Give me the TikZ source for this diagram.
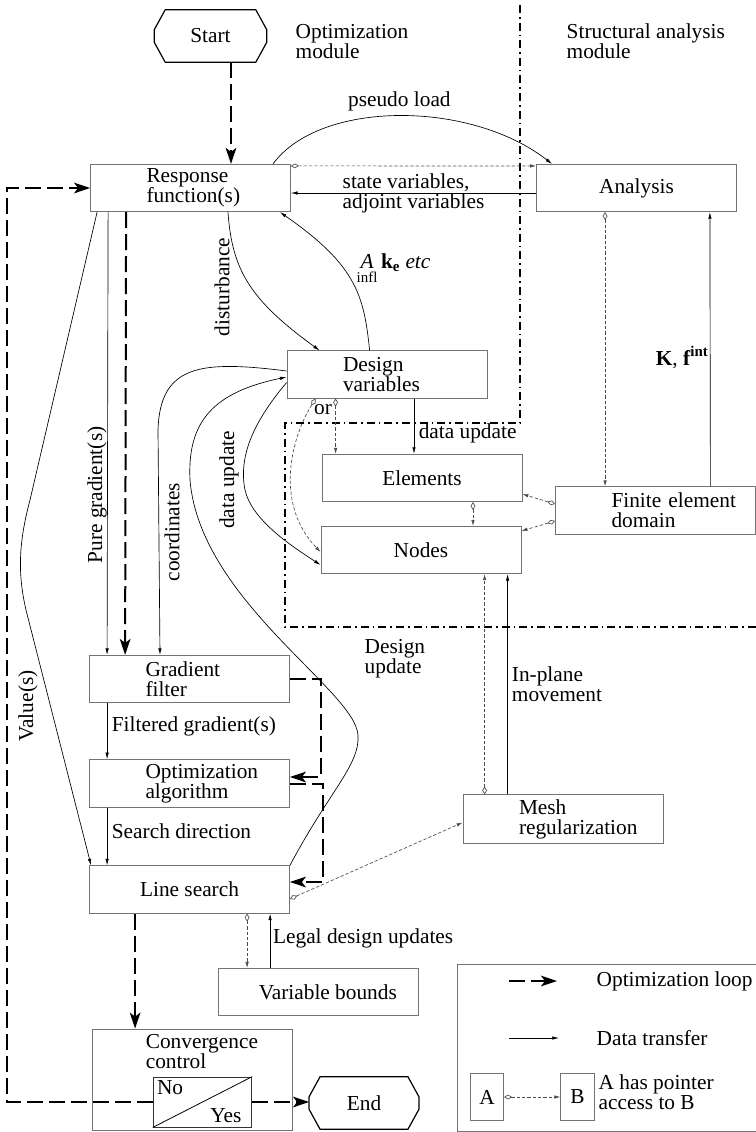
\documentclass[tikz,border=0pt]{standalone}
\usepackage{amsmath}
\usepackage{fontspec}
\setmainfont{Liberation Serif}
\usetikzlibrary{arrows.meta, calc}
\hyphenpenalty=10000
\tikzstyle{box} = [rectangle, minimum width=150pt, minimum height=35.5pt, text centered, draw=black!55, line width=0.6pt]
\tikzstyle{twoline} = [align=left, text width=66pt, inner xsep=42pt]
\tikzstyle{terminal} = [rectangle, minimum width=84pt, minimum height=39pt]
\tikzstyle{data} = [line width=0.5pt, -{Latex[length=5pt,width=2.6pt]}]
\tikzstyle{pointer} = [line width=0.5pt, draw=black!70, dash pattern=on 2.5pt off 1.5pt, {Diamond[open,length=6pt,width=3.6pt]}-{Latex[length=4.5pt,width=2.6pt]}]
\tikzstyle{optloop} = [line width=1.5pt, dash pattern=on 12pt off 4.5pt, -{Stealth[length=12pt,width=8pt,inset=3pt]}]
\tikzstyle{boundary} = [line width=1.2pt, dash pattern=on 6pt off 3pt on 1.2pt off 3pt]
\tikzstyle{vlabel} = [rotate=90, inner sep=2pt]
% octagonal frame round a terminal node
\newcommand{\terminalframe}[1]{%
    \draw [line width=0.9pt] ($(#1.north west)+(11,0)$) -- ($(#1.north east)+(-11,0)$) -- ($(#1.north east)+(0,20)$) -- ($(#1.south east)+(0,-20)$) -- ($(#1.south east)+(-11,0)$) -- ($(#1.south west)+(11,0)$) -- ($(#1.south west)+(0,-20)$) -- ($(#1.north west)+(0,20)$) -- cycle;}

\begin{document}
\begin{tikzpicture}[x=0.75pt, y=-0.75pt, font=\fontsize{16}{15}\selectfont]
    \useasboundingbox (0,0) rectangle (756,1132);
    % module borders
    \draw [boundary] (520,5) -- (520,423) -- (285,423) -- (285,627) -- (760,627);
    \node (optmod) [anchor=west, align=left] at (291,42) {Optimization\\module};
    \node (strmod) [anchor=west, align=left] at (562,41) {Structural analysis\\module};

    \node (start) [terminal] at (210.5,36) {Start};
    \terminalframe{start}
    \node (resp) [box, twoline] at (190.5,188) {Response\\function(s)};
    \node (anal) [box] at (636.5,188) {Analysis};
    \node (dvar) [box, twoline] at (387,374.5) {Design\\variables};
    \node (elem) [box] at (422,478) {Elements};
    \node (nodes) [box] at (421,550) {Nodes};
    \node (fed) [box, twoline] at (655.5,510.5) {Finite~element\\domain};
    \node (gfil) [box, twoline] at (189.5,679) {Gradient\\filter};
    \node (oalg) [box, twoline] at (189.5,783.5) {Optimization\\algorithm};
    \node (lsea) [box] at (189.5,889.5) {Line search};
    \node (mesh) [box, twoline] at (563,819) {Mesh\\regularization};
    \node (vbnd) [box] at (318.5,992) {\hspace*{14pt}Variable bounds};
    \node (conv) [box, minimum height=75.75pt] at (192.5,1079.5) {};
    \node (convtext) [anchor=west, align=left] at ($(conv.north west)+(49,22.5)$) {Convergence\\control};
    \node (yesno) [box, draw=black!80, minimum width=74pt, minimum height=37.5pt] at (202.5,1102) {};
    \draw [line width=0.6pt] (yesno.south west) -- (yesno.north east);
    \node (no) [anchor=north west, inner sep=3pt] at (yesno.north west) {No};
    \node (yes) [anchor=south east, inner xsep=8pt, inner ysep=3pt] at (yesno.south east) {Yes};
    \node (end) [terminal, minimum width=82pt] at (364,1103) {End};
    \terminalframe{end}

    % legend
    \node (legend) [box, anchor=north west, minimum width=230pt, minimum height=125pt] at (457,964) {};
    \node (loopkey) [anchor=west] at (592,981) {Optimization loop};
    \node (datakey) [anchor=west] at (592,1038) {Data transfer};
    \node (boxa) [box, minimum width=25pt, minimum height=35pt] at (487,1097) {A};
    \node (boxb) [box, minimum width=25pt, minimum height=35pt] at (577.5,1097) {B};
    \node (ptrkey) [anchor=west, align=left] at (594,1092.5) {A has pointer\\access to B};
    \draw [optloop] ($(loopkey.west)+(-83,0)$) -- ($(loopkey.west)+(-35,0)$);
    \draw [data] ($(datakey.west)+(-83,0)$) -- ($(datakey.west)+(-33,0)$);
    \draw [pointer] (boxa) -- (boxb);

    % top part
    \draw [optloop] ($(start.south)+(20.5,0)$) -- ($(resp.north)+(40.5,0)$);
    \draw [data] ($(resp.north)+(82.5,0)$) .. controls (320,100) and (470,100) .. ($(anal.north west)+(16,0)$) node [pos=0.5, above] {pseudo load};
    \draw [pointer] ($(resp.north east)+(0,2)$) -- ($(anal.north west)+(0,2)$);
    \draw [data] ($(anal.west)+(0,5)$) -- ($(resp.east)+(0,5)$) node [midway, align=left] {state variables,\\adjoint variables};
    \draw [data] ($(resp.south)+(37.5,0)$) .. controls (232,270) and (250,300) .. ($(dvar.north west)+(33,0)$);
    \node (disturb) [vlabel] at (222,287) {disturbance};
    \draw [data] ($(dvar.north west)+(83,0)$) .. controls (364,295) and (356,265) .. ($(resp.south east)+(-11,0)$);
    \node (akelbl) [anchor=base west] at (352,268) {$\underset{\text{infl}}{\textit{A}}$\,\textbf{k}$_{\textbf{e}}$\ \textit{etc}};

    % left side
    \draw [data] ($(resp.south west)+(7,0)$) -- (30,500) .. controls (18,545) and (18,575) .. (26,610) -- ($(lsea.north west)+(2,0)$);
    \node (valuelbl) [vlabel] at (28,706) {Value(s)};
    \draw [data] ($(resp.south west)+(18,0)$) -- ($(gfil.north west)+(18,0)$);
    \node (puregrad) [vlabel] at (97,495) {Pure gradient(s)};
    \draw [optloop] ($(resp.south west)+(36,0)$) -- ($(gfil.north west)+(36,0)$);
    \draw [data] ($(dvar.west)+(0,-3.5)$) .. controls (200,360) and (160,365) .. (158,430) -- ($(gfil.north)+(-29.5,0)$);
    \node (coordlbl) [vlabel] at (172,532) {coordinates};
    \draw [data] (lsea.north east) .. controls (330,790) and (360,765) .. (358,735) .. controls (355,690) and (200,600) .. (190,480) .. controls (187,420) and (215,392) .. ($(dvar.west)+(0,2.5)$);
    \node (dupdate) [anchor=west, align=left] at (360,659) {Design\\update};
    \draw [data] ($(dvar.south west)+(0,-16)$) .. controls (255,420) and (238,455) .. (245,490) .. controls (252,520) and (290,545) .. ($(nodes.west)+(0,15)$);
    \node (datalbl) [vlabel] at (229,480) {data update};

    % structural part
    \draw [pointer] ($(dvar.south west)+(29,0)$) .. controls (290,440) and (275,505) .. ($(nodes.west)+(0,2)$);
    \draw [pointer] ($(dvar.south west)+(49,0)$) -- ($(elem.north west)+(14,0)$);
    \node (orlbl) at (323,410) {or};
    \draw [data] ($(dvar.south)+(27,0)$) -- ($(elem.north)+(-8,0)$) node [pos=0.62, anchor=west] {data update};
    \draw [pointer] ($(elem.south)+(51,0)$) -- ($(nodes.north)+(52,0)$);
    \draw [pointer] ($(fed.west)+(0,-6.5)$) -- ($(elem.south east)+(0,-8)$);
    \draw [pointer] ($(fed.west)+(0,10.5)$) -- ($(nodes.north east)+(0,5)$);
    \draw [pointer] ($(anal.south west)+(69,0)$) -- ($(fed.north west)+(50,0)$);
    \draw [data] ($(fed.north east)+(-45.5,0)$) -- ($(anal.south east)+(-27,0)$) node [pos=0.47, anchor=east, inner sep=1pt] {\textbf{K}, \textbf{f}\textsuperscript{\textbf{int}}};
    \draw [pointer] ($(mesh.north west)+(22,0)$) -- ($(nodes.south west)+(164,0)$);
    \draw [data] ($(mesh.north west)+(45,0)$) -- ($(nodes.south west)+(187,0)$) node [midway, anchor=west, align=left, inner xsep=3pt] {In-plane\\movement};
    \draw [pointer] ($(lsea.east)+(0,9.5)$) -- ($(mesh.south west)+(0,-21)$);

    % optimization chain
    \draw [data] ($(gfil.south west)+(18,0)$) -- ($(oalg.north west)+(18,0)$) node [pos=0.41, anchor=west] {Filtered gradient(s)};
    \draw [data] ($(oalg.south west)+(18,0)$) -- ($(lsea.north west)+(18,0)$) node [pos=0.4, anchor=west] {Search direction};
    \draw [optloop] (gfil.east) -- ++(31,0) |- ($(oalg.east)+(0,-6.5)$);
    \draw [optloop] ($(oalg.east)+(0,0.5)$) -- ++(33,0) |- ($(lsea.east)+(0,-7.5)$);
    \draw [pointer] ($(lsea.south west)+(158,0)$) -- ($(vbnd.north west)+(29,0)$);
    \draw [data] ($(vbnd.north west)+(52,0)$) -- ($(lsea.south west)+(181,0)$) node [pos=0.55, anchor=west, inner xsep=2pt] {Legal design updates};
    \draw [optloop] ($(lsea.south west)+(46,0)$) -- ($(conv.north west)+(43,0)$);
    \draw [optloop] (yesno.west) -- ++(-146,0) |- (resp.west);
    \draw [optloop] (yesno.east) -- (yesno.east -| end.west);
\end{tikzpicture}
\end{document}
